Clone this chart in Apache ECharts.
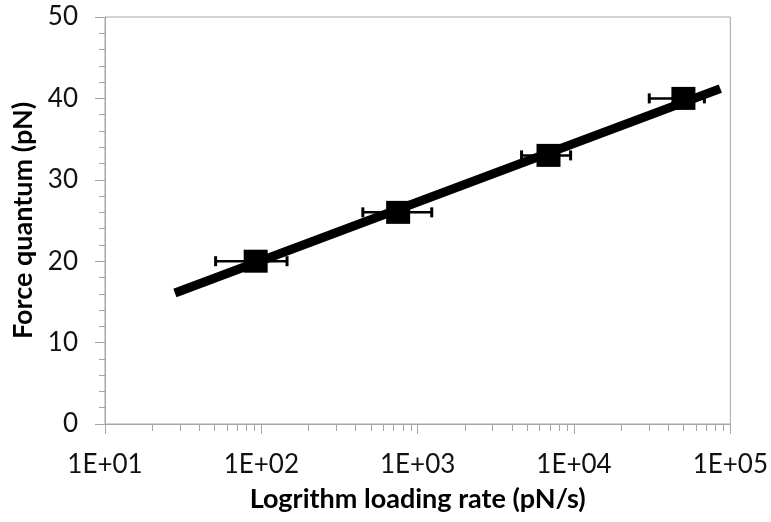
<!DOCTYPE html>
<html>
<head>
<meta charset="utf-8">
<style>
  html, body { margin: 0; padding: 0; background: #fff; }
  #chart { width: 771px; height: 522px; }
</style>
<script src="https://cdn.jsdelivr.net/npm/echarts@6/dist/echarts.min.js"></script>
</head>
<body>
<div id="chart"></div>
<script>
// Measured force quanta against loading rate (log axis)
const loadingRate = [92, 750, 6870, 50100];
const forceQuantum = [20, 26, 33, 40];
// Horizontal error bar extents of the loading rate
const rateLow = [51, 446, 4620, 30300];
const rateHigh = [146, 1230, 9510, 68200];
// Logarithmic trend line end points
const trendRate = [28, 86300];
const trendForce = [16.1, 41.2];
// Axis tick labels
const xTickLabels = ['1E+01', '1E+02', '1E+03', '1E+04', '1E+05'];
const yTickLabels = ['0', '10', '20', '30', '40', '50'];

const axisGray = '#a6a6a6';
const fontFamily = 'Lato, "Open Sans", sans-serif';

// Minor tick positions inside each decade (2..9 x 10^n)
const minorRates = [];
[10, 100, 1000, 10000].forEach(function (d) {
  for (let m = 2; m <= 9; m++) minorRates.push(d * m);
});

const chart = echarts.init(document.getElementById('chart'), null, { renderer: 'canvas' });

chart.setOption({
  backgroundColor: '#ffffff',
  animation: false,
  grid: {
    left: 105, right: 40, top: 17, bottom: 98,
    show: true, borderColor: axisGray, borderWidth: 1, backgroundColor: 'transparent'
  },
  xAxis: {
    type: 'log',
    logBase: 10,
    min: 10,
    max: 100000,
    name: 'Logrithm loading rate (pN/s)',
    nameLocation: 'middle',
    nameGap: 62,
    nameTextStyle: { fontFamily: fontFamily, fontWeight: 'bold', fontSize: 27, color: '#000' },
    axisLine: { show: true, lineStyle: { color: axisGray, width: 1 } },
    axisTick: { show: true, inside: false, length: 10, lineStyle: { color: axisGray } },
    minorTick: { show: false },
    splitLine: { show: false },
    axisLabel: {
      margin: 28,
      fontFamily: fontFamily,
      fontSize: 26,
      color: '#111',
      formatter: function (v) {
        return xTickLabels[Math.round(Math.log10(v)) - 1];
      }
    }
  },
  yAxis: {
    type: 'value',
    min: 0,
    max: 50,
    interval: 10,
    name: 'Force quantum (pN)',
    nameLocation: 'middle',
    nameGap: 64,
    nameRotate: 90,
    nameTextStyle: { fontFamily: fontFamily, fontWeight: 'bold', fontSize: 27, color: '#000' },
    axisLine: { show: true, lineStyle: { color: axisGray, width: 1 } },
    axisTick: { show: true, inside: false, length: 10, lineStyle: { color: axisGray } },
    minorTick: { show: true, splitNumber: 5, length: 6, lineStyle: { color: axisGray } },
    splitLine: { show: false },
    axisLabel: {
      margin: 27,
      fontFamily: fontFamily,
      fontSize: 26,
      color: '#111',
      formatter: function (v) {
        return yTickLabels[Math.round(v / 10)];
      }
    }
  },
  series: [
    {
      // minor ticks of the log axis
      type: 'custom',
      silent: true,
      clip: false,
      data: minorRates.map(function (r) { return [r, 0]; }),
      renderItem: function (params, api) {
        const p = api.coord([api.value(0), api.value(1)]);
        return {
          type: 'line',
          shape: { x1: Math.round(p[0]) + 0.5, y1: p[1], x2: Math.round(p[0]) + 0.5, y2: p[1] + 7 },
          style: { stroke: axisGray, lineWidth: 1 }
        };
      },
      z: 1
    },
    {
      // horizontal error bars
      type: 'custom',
      silent: true,
      data: loadingRate.map(function (r, i) { return [rateLow[i], rateHigh[i], forceQuantum[i]]; }),
      renderItem: function (params, api) {
        const a = api.coord([api.value(0), api.value(2)]);
        const b = api.coord([api.value(1), api.value(2)]);
        const cap = 5;
        const st = { stroke: '#000', lineWidth: 2.5 };
        return {
          type: 'group',
          children: [
            { type: 'line', shape: { x1: a[0], y1: a[1], x2: b[0], y2: b[1] }, style: st },
            { type: 'line', shape: { x1: a[0], y1: a[1] - cap, x2: a[0], y2: a[1] + cap }, style: { stroke: '#000', lineWidth: 3 } },
            { type: 'line', shape: { x1: b[0], y1: b[1] - cap, x2: b[0], y2: b[1] + cap }, style: { stroke: '#000', lineWidth: 3 } }
          ]
        };
      },
      z: 2
    },
    {
      type: 'line',
      data: trendRate.map(function (r, i) { return [r, trendForce[i]]; }),
      symbol: 'none',
      silent: true,
      lineStyle: { color: '#000', width: 9, cap: 'butt' },
      z: 3
    },
    {
      type: 'scatter',
      data: loadingRate.map(function (r, i) { return [r, forceQuantum[i]]; }),
      symbol: 'rect',
      symbolSize: [24, 23],
      itemStyle: { color: '#000', opacity: 1 },
      z: 4
    }
  ]
});
</script>
</body>
</html>
